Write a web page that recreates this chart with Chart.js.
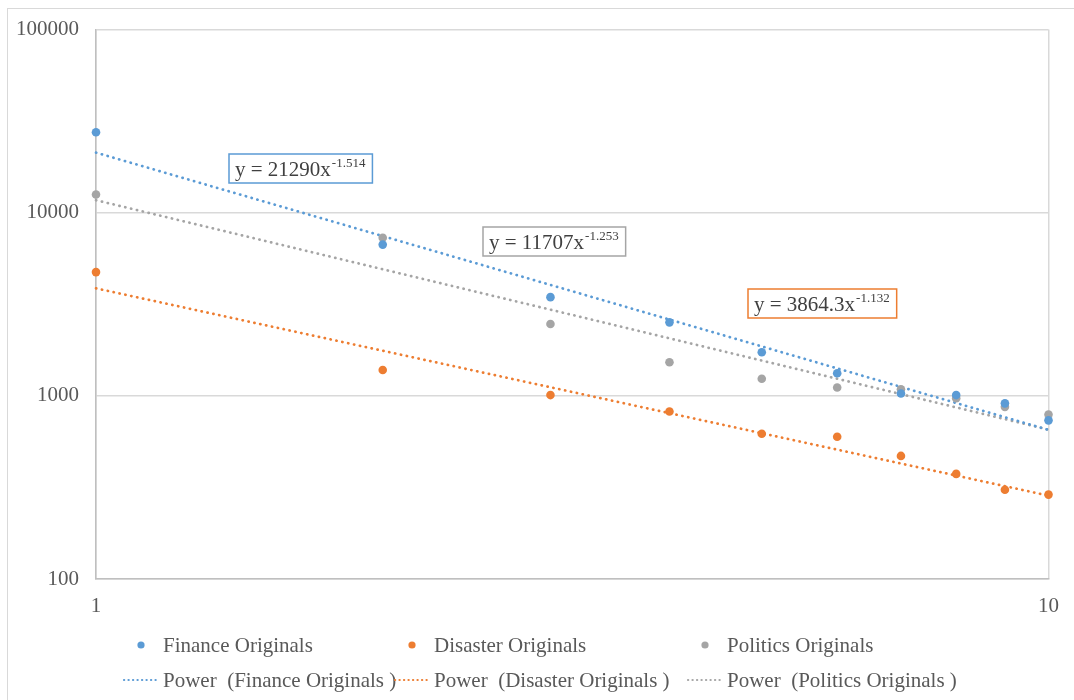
<!DOCTYPE html>
<html>
<head>
<meta charset="utf-8">
<script src="https://cdn.jsdelivr.net/npm/chart.js@4.4.1/dist/chart.umd.min.js"></script>
<style>
  html, body { margin: 0; padding: 0; background: #fff; }
  #wrap { position: relative; width: 1074px; height: 700px; overflow: hidden; }
  #frame { position: absolute; left: 7px; top: 8px; width: 1200px; height: 800px;
           border-left: 1.5px solid #d9d9d9; border-top: 1.5px solid #d9d9d9; }
  #c { position: absolute; left: 0; top: 0; }
</style>
</head>
<body>
<div id="wrap">
  <div id="frame"></div>
  <canvas id="c" width="1074" height="700"></canvas>
</div>
<script>
// Rank positions on the x axis
const ranks = [1, 2, 3, 4, 5, 6, 7, 8, 9, 10];

// Counts per rank for each topic
const financeOriginals  = [27500, 6700, 3460, 2520, 1730, 1330, 1030, 1010, 910, 735];
const disasterOriginals = [4740, 1385, 1010, 822, 621, 598, 470, 375, 307, 289];
const politicsOriginals = [12570, 7300, 2470, 1525, 1240, 1110, 1087, 972, 871, 791];

// Fitted power trends y = a * x^b
const seriesNames = ['Finance Originals', 'Disaster Originals', 'Politics Originals'];
const trendCoef = [21290, 3864.3, 11707];
const trendExp  = [-1.514, -1.132, -1.253];

// Axis tick values
const yTicks = [100, 1000, 10000, 100000];
const xTicks = [1, 10];

const colors = ['#5b9bd5', '#ed7d31', '#a5a5a5'];
const FONT = '"Liberation Serif", "Times New Roman", serif';
const TEXT = '#595959';

const seriesValues = [financeOriginals, disasterOriginals, politicsOriginals];

function trendPoints(i) {
  const xs = [ranks[0], ranks[ranks.length - 1]];
  return xs.map(x => ({ x: x, y: trendCoef[i] * Math.pow(x, trendExp[i]) }));
}

const datasets = [];
for (let i = 0; i < 3; i++) {
  datasets.push({
    label: 'Power  (' + seriesNames[i] + ' )',
    data: trendPoints(i),
    showLine: true,
    borderColor: colors[i],
    borderWidth: 2.7,
    borderDash: [0.3, 5.7],
    borderCapStyle: 'round',
    pointRadius: 0,
    fill: false,
    clip: false,
    order: 2
  });
}
for (let i = 0; i < 3; i++) {
  datasets.push({
    label: seriesNames[i],
    data: ranks.map((x, k) => ({ x: x, y: seriesValues[i][k] })),
    showLine: false,
    pointRadius: 4.3,
    pointBackgroundColor: colors[i],
    pointBorderWidth: 0,
    clip: false,
    order: 1
  });
}

// Equation boxes: [series index, left, top]
const eqBoxes = [[0, 229, 154], [2, 483, 227], [1, 748, 289]];

const equationPlugin = {
  id: 'equations',
  afterDatasetsDraw(chart) {
    const ctx = chart.ctx;
    ctx.save();
    eqBoxes.forEach(([i, left, top]) => {
      const main = 'y = ' + String(trendCoef[i]) + 'x';
      const sup = String(trendExp[i]);
      ctx.font = '21px ' + FONT;
      const wMain = ctx.measureText(main).width;
      ctx.font = '13px ' + FONT;
      const wSup = ctx.measureText(sup).width;
      const w = wMain + wSup + 14;
      const h = 29;
      ctx.fillStyle = '#ffffff';
      ctx.fillRect(left, top, w, h);
      ctx.strokeStyle = colors[i];
      ctx.lineWidth = 1.5;
      ctx.strokeRect(left, top, w, h);
      ctx.fillStyle = '#404040';
      ctx.textBaseline = 'alphabetic';
      ctx.textAlign = 'left';
      ctx.font = '21px ' + FONT;
      ctx.fillText(main, left + 6, top + 22);
      ctx.font = '13px ' + FONT;
      ctx.fillText(sup, left + 6 + wMain + 1, top + 13);
    });
    ctx.restore();
  }
};

// Two-row legend laid out in three fixed columns
const legendCols = [122, 393, 686];
const legendPlugin = {
  id: 'colLegend',
  afterDraw(chart) {
    const ctx = chart.ctx;
    ctx.save();
    ctx.font = '21px ' + FONT;
    ctx.textBaseline = 'middle';
    ctx.textAlign = 'left';
    for (let i = 0; i < 3; i++) {
      const x0 = legendCols[i];
      const y1 = 646, y2 = 681;
      // marker row
      ctx.beginPath();
      ctx.fillStyle = colors[i];
      ctx.arc(x0 + 19, y1 - 1, 3.6, 0, Math.PI * 2);
      ctx.fill();
      ctx.fillStyle = TEXT;
      ctx.fillText(seriesNames[i], x0 + 41, y1);
      // trend row
      ctx.beginPath();
      ctx.strokeStyle = colors[i];
      ctx.lineWidth = 2.2;
      ctx.lineCap = 'round';
      ctx.setLineDash([0.2, 4.3]);
      ctx.moveTo(x0 + 2, y2 - 1);
      ctx.lineTo(x0 + 38, y2 - 1);
      ctx.stroke();
      ctx.setLineDash([]);
      ctx.fillStyle = TEXT;
      ctx.fillText('Power  (' + seriesNames[i] + ' )', x0 + 41, y2);
    }
    ctx.restore();
  }
};

new Chart(document.getElementById('c'), {
  type: 'scatter',
  data: { datasets: datasets },
  plugins: [equationPlugin, legendPlugin],
  options: {
    responsive: false,
    animation: false,
    layout: { padding: { left: 0, top: 28, right: 24, bottom: 0 } },
    plugins: { legend: { display: false }, tooltip: { enabled: false } },
    scales: {
      x: {
        type: 'logarithmic',
        min: 1, max: 10,
        afterBuildTicks(scale) { scale.ticks = xTicks.map(v => ({ value: v })); },
        afterFit(scale) { scale.height = 121; },
        ticks: {
          callback: v => String(v),
          color: TEXT,
          font: { family: FONT, size: 21 },
          padding: 15,
          maxRotation: 0,
          autoSkip: false
        },
        grid: { color: '#d9d9d9', lineWidth: 1.5, drawTicks: false },
        border: { color: '#bfbfbf', width: 1.5 }
      },
      y: {
        type: 'logarithmic',
        min: 100, max: 100000,
        afterBuildTicks(scale) { scale.ticks = yTicks.map(v => ({ value: v })); },
        afterFit(scale) { scale.width = 96; },
        ticks: {
          callback: v => String(v),
          color: TEXT,
          font: { family: FONT, size: 21 },
          padding: 17,
          autoSkip: false
        },
        grid: { color: '#d9d9d9', lineWidth: 1.5, drawTicks: false },
        border: { color: '#bfbfbf', width: 1.5 }
      }
    }
  }
});
</script>
</body>
</html>
